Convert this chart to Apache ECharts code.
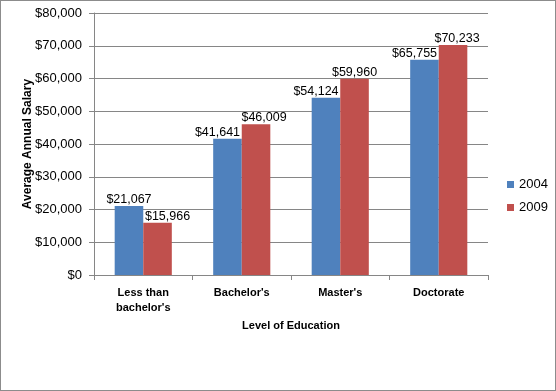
<!DOCTYPE html>
<html>
<head>
<meta charset="utf-8">
<script src="https://cdn.jsdelivr.net/npm/echarts@6/dist/echarts.min.js"></script>
<style>
  html, body { margin: 0; padding: 0; background: #fff; }
  #chart { width: 554px; height: 389px; border: 1px solid #8c8c8c; }
</style>
</head>
<body>
<div id="chart"></div>
<script>
  // data
  const categories = ['Less than\nbachelor\'s', 'Bachelor\'s', 'Master\'s', 'Doctorate']
  const salary2004 = [21067, 41641, 54124, 65755]
  const salary2009 = [15966, 46009, 59960, 70233]
  const seriesNames = ['2004', '2009']

  // labels were nudged sideways in the original so they don't collide
  const nudge2004 = [0, -10, -10, -10]
  const nudge2009 = [10, 8, 0, 4]

  const money = v => '$' + v.toLocaleString('en-US')
  const font = 'Liberation Sans'

  let myChart = echarts.init(document.getElementById('chart'))

  let labelCfg = {
    show: true,
    position: 'top',
    distance: 0,
    color: '#000',
    fontFamily: font,
    fontSize: 12.5,
    formatter: p => money(p.value)
  }

  function withNudge(values, nudge){
    return values.map((v, i) => ({ value: v, label: { offset: [nudge[i], 0] } }))
  }

  let option = {
    animation: false,
    textStyle: { fontFamily: font },
    grid: { left: 93, right: 67, top: 12, bottom: 115 },
    legend: {
      data: seriesNames,
      orient: 'vertical',
      left: 501,
      top: 172,
      itemWidth: 7,
      itemHeight: 7,
      itemGap: 10,
      icon: 'rect',
      textStyle: { fontSize: 13, color: '#000', fontFamily: font }
    },
    xAxis: {
      type: 'category',
      data: categories,
      name: 'Level of Education',
      nameLocation: 'middle',
      nameGap: 45,
      nameMoveOverlap: false,
      nameTextStyle: { fontSize: 11, fontWeight: 'bold', color: '#000' },
      axisLine: { lineStyle: { color: '#868686' } },
      axisTick: { show: true, length: 5, lineStyle: { color: '#868686' } },
      axisLabel: { fontSize: 11, fontWeight: 'bold', color: '#000', margin: 10, lineHeight: 15 }
    },
    yAxis: {
      type: 'value',
      min: 0,
      max: 80000,
      interval: 10000,
      name: 'Average Annual Salary',
      nameLocation: 'middle',
      nameGap: 60,
      nameMoveOverlap: false,
      nameTextStyle: { fontSize: 12, fontWeight: 'bold', color: '#000' },
      axisLine: { show: true, lineStyle: { color: '#868686' } },
      axisTick: { show: true, length: 5, lineStyle: { color: '#868686' } },
      splitLine: { lineStyle: { color: '#868686' } },
      axisLabel: { fontSize: 13, color: '#000', margin: 12, formatter: money }
    },
    series: [
      {
        name: seriesNames[0],
        type: 'bar',
        data: withNudge(salary2004, nudge2004),
        barGap: '0%',
        barCategoryGap: '42%',
        itemStyle: { color: '#4F81BD' },
        label: labelCfg
      },
      {
        name: seriesNames[1],
        type: 'bar',
        data: withNudge(salary2009, nudge2009),
        barGap: '0%',
        barCategoryGap: '42%',
        itemStyle: { color: '#C0504D' },
        label: labelCfg
      }
    ]
  }

  myChart.setOption(option)
</script>
</body>
</html>
